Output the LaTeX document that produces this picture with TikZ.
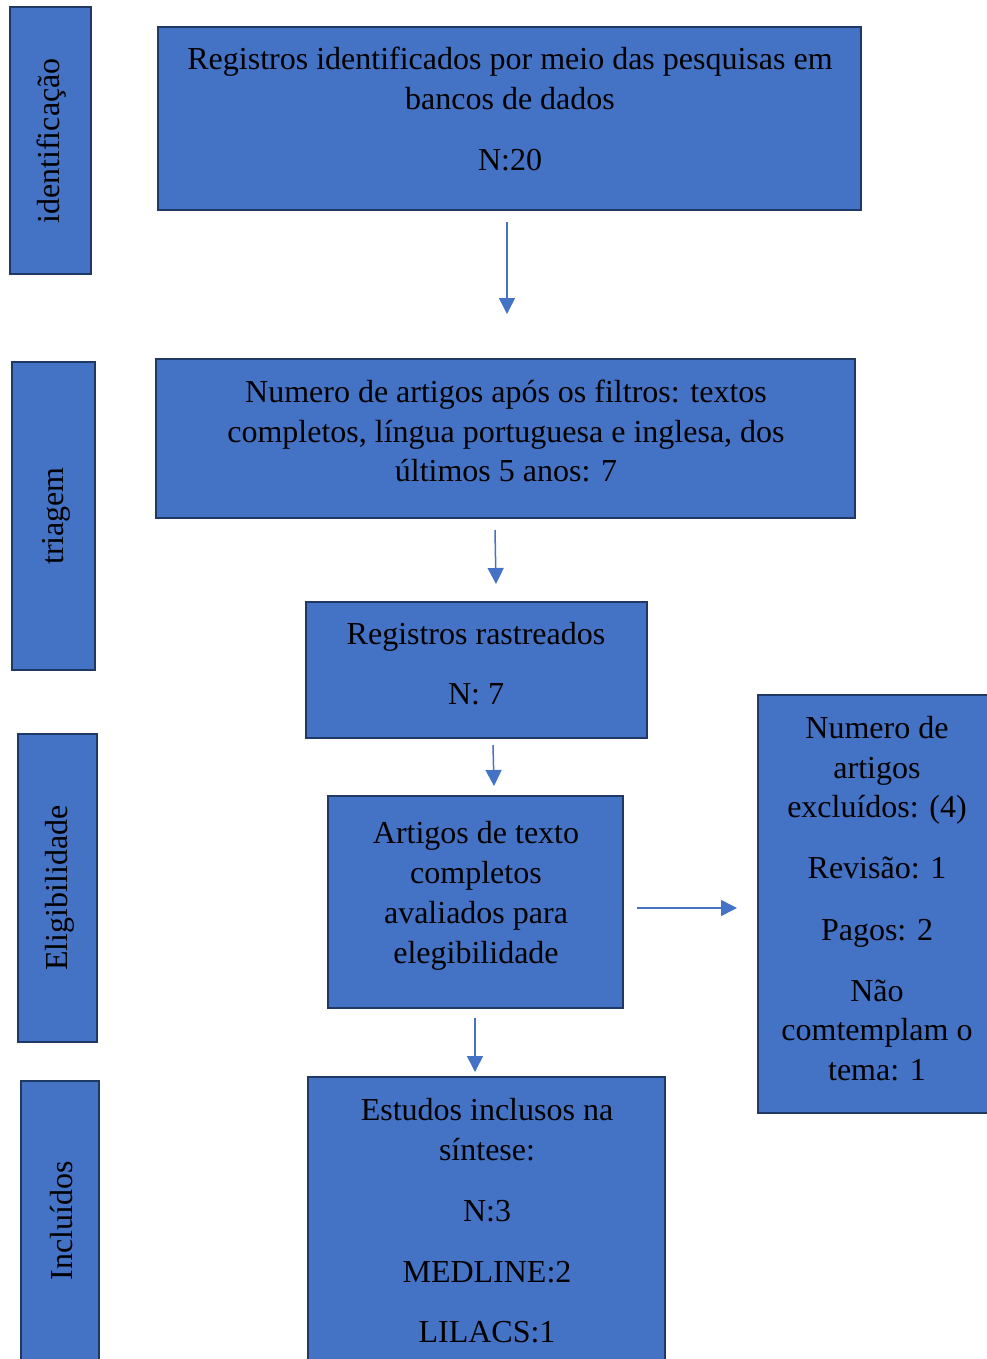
\documentclass[tikz,border=0pt]{standalone}
\usepackage{fontspec}
\setmainfont{Liberation Serif}
\usetikzlibrary{arrows.meta}
\definecolor{boxblue}{HTML}{4472C4}
\definecolor{boxedge}{HTML}{1F3864}
\tikzset{
  panel/.style={draw=boxedge, line width=2pt, fill=boxblue},
  lbl/.style={anchor=base, inner sep=0pt, font=\fontsize{32}{40}\selectfont, text=black},
  side/.style={inner sep=0pt, rotate=90, font=\fontsize{32}{40}\selectfont, text=black},
  flow/.style={draw=boxblue, line width=1.5pt, -{Triangle[width=16pt,length=16pt]}}
}
\begin{document}
\begin{tikzpicture}[x=1pt,y=-1pt]
\useasboundingbox (0,0) rectangle (986,1359);
% side panels
\draw[panel] (10,7) rectangle (91,274);
\node[side] (sid) at (52,141) {identificação};
\draw[panel] (12,362) rectangle (95,670);
\node[side] (stri) at (56,516) {triagem};
\draw[panel] (18,734) rectangle (97,1042);
\node[side] (seli) at (60,888) {Eligibilidade};
\draw[panel] (21,1081) rectangle (99,1365);
\node[side] (sinc) at (62,1221) {Incluídos};
% main boxes
\draw[panel] (158,27) rectangle (861,210);
\node[lbl] (a1) at (510,70) {Registros identificados por meio das pesquisas em};
\node[lbl] (a2) at (510,110) {bancos de dados};
\node[lbl] (a3) at (510,171) {N:20};

\draw[panel] (156,359) rectangle (855,518);
\node[lbl] (b1) at (506,402) {Numero de artigos após os filtros: textos};
\node[lbl] (b2) at (506,442) {completos, língua portuguesa e inglesa, dos};
\node[lbl] (b3) at (506,481) {últimos 5 anos: 7};

\draw[panel] (306,602) rectangle (647,738);
\node[lbl] (c1) at (476,644) {Registros rastreados};
\node[lbl] (c2) at (476,704) {N: 7};

\draw[panel] (328,796) rectangle (623,1008);
\node[lbl] (d1) at (476,843) {Artigos de texto};
\node[lbl] (d2) at (476,883) {completos};
\node[lbl] (d3) at (476,923) {avaliados para};
\node[lbl] (d4) at (476,963) {elegibilidade};

\draw[panel] (758,695) rectangle (998,1113);
\node[lbl] (e1) at (877,738) {Numero de};
\node[lbl] (e2) at (877,778) {artigos};
\node[lbl] (e3) at (877,817) {excluídos: (4)};
\node[lbl] (e4) at (877,878) {Revisão: 1};
\node[lbl] (e5) at (877,940) {Pagos: 2};
\node[lbl] (e6) at (877,1001) {Não};
\node[lbl] (e7) at (877,1040) {comtemplam o};
\node[lbl] (e8) at (877,1080) {tema: 1};

\draw[panel] (308,1077) rectangle (665,1365);
\node[lbl] (f1) at (487,1120) {Estudos inclusos na};
\node[lbl] (f2) at (487,1160) {síntese:};
\node[lbl] (f3) at (487,1221) {N:3};
\node[lbl] (f4) at (487,1282) {MEDLINE:2};
\node[lbl] (f5) at (487,1342) {LILACS:1};
% connectors
\coordinate (p1s) at (507,222); \coordinate (p1e) at (507,314);
\coordinate (p2s) at (495,530); \coordinate (p2e) at (496,584);
\coordinate (p3s) at (493,745); \coordinate (p3e) at (494,786);
\coordinate (p4s) at (637,908); \coordinate (p4e) at (737,908);
\coordinate (p5s) at (475,1018); \coordinate (p5e) at (475,1072);
\draw[flow] (p1s) -- (p1e);
\draw[flow] (p2s) -- (p2e);
\draw[flow] (p3s) -- (p3e);
\draw[flow] (p4s) -- (p4e);
\draw[flow] (p5s) -- (p5e);
\end{tikzpicture}
\end{document}
